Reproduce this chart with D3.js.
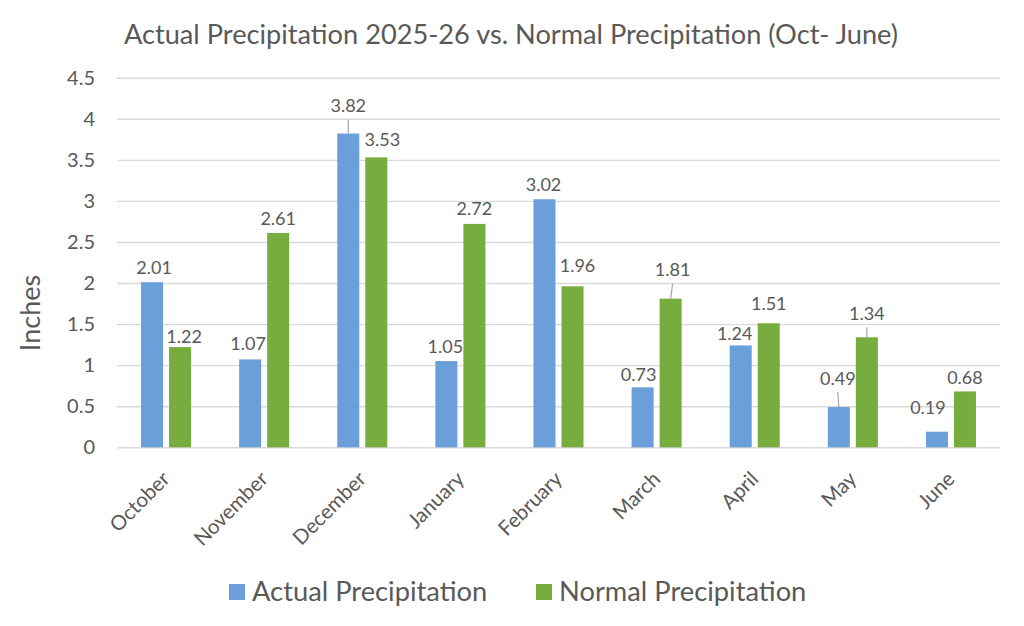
<html>
<script src="https://d3js.org/d3.v7.min.js"></script>
<style>
body { margin: 0; background: white; }
text { font-family: Lato, 'Open Sans', sans-serif; fill: #595959; }
</style>
<body>
<svg width=1024 height=626></svg>
<script>
const months = ["October", "November", "December", "January", "February", "March", "April", "May", "June"];
const actual = [2.01, 1.07, 3.82, 1.05, 3.02, 0.73, 1.24, 0.49, 0.19];
const normal = [1.22, 2.61, 3.53, 2.72, 1.96, 1.81, 1.51, 1.34, 0.68];
const seriesNames = ["Actual Precipitation", "Normal Precipitation"];
const yTicks = [0, 0.5, 1, 1.5, 2, 2.5, 3, 3.5, 4, 4.5];

const colors = ["#6a9fd9", "#77ac3f"];

// label nudges as placed in the original chart: [dx, lift above bar top, leader line]
const labelLayout = [
  [[2, 15], [-2, 16], [0, 28, true], [-1, 15], [-1, 15], [-4, 13], [-6, 12], [-1, 29, true], [-9, 24]],
  [[4, 11], [0, 14], [6, 18], [0, 15], [5, 21], [2, 29, true], [0, 20], [0, 24, true], [0, 14]]
];

const svg = d3.select("svg");
const plotLeft = 117, plotRight = 1000, plotTop = 77.7, plotBottom = 447.3;

const x = d3.scaleBand().domain(months).range([plotLeft, plotRight]).padding(0);
const x1 = d3.scaleBand().domain([0, 1]).range([0, x.bandwidth()])
  .paddingInner(0.214).paddingOuter(0.857);
const y = d3.scaleLinear().domain([0, 4.5]).range([plotBottom, plotTop]);

// title
svg.append("text")
  .attr("x", 511).attr("y", 44)
  .attr("text-anchor", "middle")
  .style("font-size", "27.2px")
  .text("Actual Precipitation 2025-26 vs. Normal Precipitation (Oct- June)");

// y axis + gridlines
const yAxis = svg.append("g")
  .attr("transform", `translate(${plotLeft},0)`)
  .call(d3.axisLeft(y).tickValues(yTicks).tickFormat(d => String(d))
    .tickSize(-(plotRight - plotLeft)).tickPadding(22));
yAxis.select(".domain").remove();
yAxis.selectAll("line").attr("stroke", "#d9d9d9").attr("stroke-width", 1.4);
yAxis.selectAll("text").style("font-size", "20px").attr("fill", "#595959");

// x axis labels
const xAxis = svg.append("g")
  .attr("transform", `translate(0,${plotBottom})`)
  .call(d3.axisBottom(x).tickSize(0));
xAxis.select(".domain").remove();
xAxis.selectAll("text")
  .attr("y", 0).attr("dy", 0)
  .attr("text-anchor", "end")
  .attr("transform", "translate(5,33) rotate(-45)")
  .attr("fill", "#595959")
  .style("font-size", "20.5px");

svg.append("text")
  .attr("transform", "translate(40,313) rotate(-90)")
  .attr("text-anchor", "middle")
  .style("font-size", "27px")
  .text("Inches");

// bars
const series = [actual, normal];
series.forEach((vals, s) => {
  const g = svg.append("g");
  g.selectAll("rect")
    .data(vals)
    .enter()
    .append("rect")
    .attr("x", (d, i) => x(months[i]) + x1(s))
    .attr("y", d => y(d))
    .attr("width", x1.bandwidth())
    .attr("height", d => y(0) - y(d))
    .attr("fill", colors[s]);

  vals.forEach((d, i) => {
    const cx = x(months[i]) + x1(s) + x1.bandwidth() / 2;
    const [dx, lift, leader] = labelLayout[s][i];
    const ly = y(d) - lift;
    if (leader) {
      g.append("line")
        .attr("x1", cx + dx).attr("y1", ly + 14)
        .attr("x2", cx).attr("y2", y(d))
        .attr("stroke", "#a6a6a6").attr("stroke-width", 1.2);
    }
    g.append("text")
      .attr("x", cx + dx).attr("y", ly + 6.5)
      .attr("text-anchor", "middle")
      .style("font-size", "18px")
      .text(d.toFixed(2));
  });
});

// legend
const legend = svg.append("g").attr("transform", "translate(0,601)");
const legendX = [229, 536];
seriesNames.forEach((name, s) => {
  legend.append("rect")
    .attr("x", legendX[s]).attr("y", -17)
    .attr("width", 16).attr("height", 16)
    .attr("fill", colors[s]);
  legend.append("text")
    .attr("x", legendX[s] + 23).attr("y", 0)
    .style("font-size", "27.3px")
    .text(name);
});
</script>
</body>
</html>
